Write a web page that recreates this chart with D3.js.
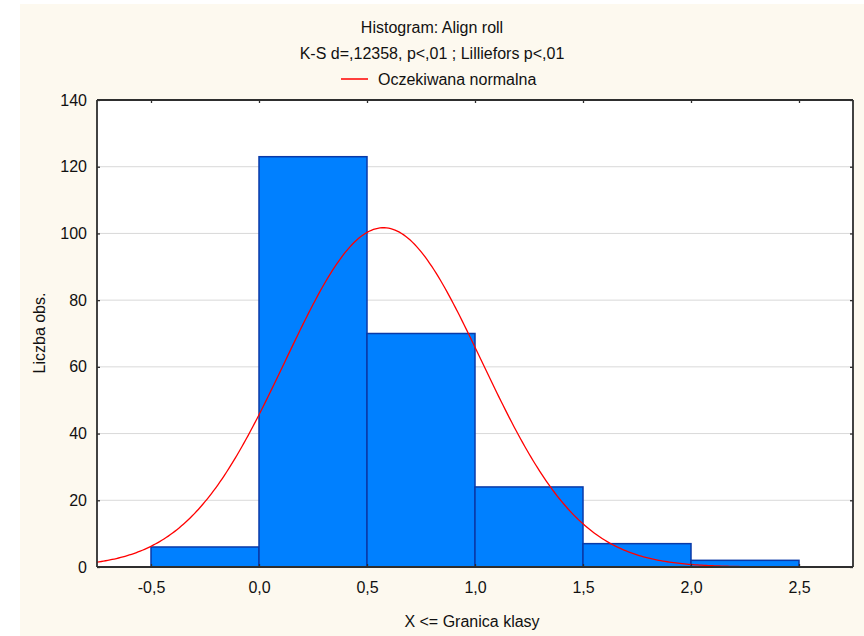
<!DOCTYPE html>
<html>
<head>
<meta charset="utf-8">
<script src="https://cdn.jsdelivr.net/npm/d3@7"></script>
<style>
  html, body { margin: 0; padding: 0; background: #ffffff; }
  svg { display: block; }
  text { font-family: "Liberation Sans", Arial, sans-serif; }
</style>
</head>
<body>
<svg id="chart" width="864" height="636"></svg>
<script>
// ---- data ----
const titleLine1 = "Histogram: Align roll";
const titleLine2 = "K-S d=,12358, p<,01 ; Lilliefors p<,01";
const legendLabel = "Oczekiwana normalna";
const xLabel = "X <= Granica klasy";
const yLabel = "Liczba obs.";

const binLower = [-0.5, 0.0, 0.5, 1.0, 1.5, 2.0];
const binUpper = [0.0, 0.5, 1.0, 1.5, 2.0, 2.5];
const binCounts = [6, 123, 70, 24, 7, 2];

const xTicks = [-0.5, 0.0, 0.5, 1.0, 1.5, 2.0, 2.5];
const xTickLabels = ["-0,5", "0,0", "0,5", "1,0", "1,5", "2,0", "2,5"];
const yTicks = [0, 20, 40, 60, 80, 100, 120, 140];
const yTickLabels = ["0", "20", "40", "60", "80", "100", "120", "140"];

// expected normal distribution parameters (fitted)
const normalMean = 0.576;
const normalSd = 0.455;

// ---- layout ----
const W = 864, H = 636;
const plot = { left: 97, right: 853, top: 100, bottom: 567 };

const svg = d3.select("#chart");

// backgrounds
svg.append("rect").attr("x", 0).attr("y", 0).attr("width", W).attr("height", H).attr("fill", "#ffffff");
svg.append("rect").attr("x", 20).attr("y", 4).attr("width", W - 20).attr("height", H - 4).attr("fill", "#fdf9ef");

const x = d3.scaleLinear().domain([-0.75, 2.75]).range([plot.left, plot.right]);
const y = d3.scaleLinear().domain([0, 140]).range([plot.bottom, plot.top]);

svg.append("rect")
  .attr("x", plot.left).attr("y", plot.top)
  .attr("width", plot.right - plot.left).attr("height", plot.bottom - plot.top)
  .attr("fill", "#ffffff");

svg.append("defs").append("clipPath").attr("id", "clip")
  .append("rect")
  .attr("x", plot.left).attr("y", plot.top)
  .attr("width", plot.right - plot.left).attr("height", plot.bottom - plot.top);

// gridlines
svg.append("g").selectAll("line")
  .data(yTicks.filter(d => d > 0 && d < 140))
  .join("line")
  .attr("x1", plot.left).attr("x2", plot.right)
  .attr("y1", d => y(d)).attr("y2", d => y(d))
  .attr("stroke", "#d9d9d9").attr("stroke-width", 1);

// bars
const bins = binCounts.map((c, i) => ({ lo: binLower[i], hi: binUpper[i], count: c }));
svg.append("g").selectAll("rect")
  .data(bins)
  .join("rect")
  .attr("x", d => x(d.lo))
  .attr("y", d => y(d.count))
  .attr("width", d => x(d.hi) - x(d.lo))
  .attr("height", d => y(0) - y(d.count))
  .attr("fill", "#0080ff")
  .attr("stroke", "#0a3aa8")
  .attr("stroke-width", 1.5);

// expected normal curve
const total = d3.sum(binCounts);
const binWidth = binUpper[0] - binLower[0];
const normPdf = v => Math.exp(-0.5 * Math.pow((v - normalMean) / normalSd, 2)) / (normalSd * Math.sqrt(2 * Math.PI));
const curveXs = d3.range(-0.75, 2.7501, 0.01);
const line = d3.line().x(d => x(d)).y(d => y(total * binWidth * normPdf(d)));
svg.append("path")
  .datum(curveXs)
  .attr("clip-path", "url(#clip)")
  .attr("d", line)
  .attr("fill", "none")
  .attr("stroke", "#ff0000")
  .attr("stroke-width", 1.3);

// axes
const fmtX = d => xTickLabels[xTicks.indexOf(d)];
const fmtY = d => yTickLabels[yTicks.indexOf(d)];

const axL = svg.append("g").attr("transform", `translate(${plot.left},0)`)
  .call(d3.axisLeft(y).tickValues(yTicks).tickFormat(fmtY).tickSize(-3).tickPadding(10));
const axR = svg.append("g").attr("transform", `translate(${plot.right},0)`)
  .call(d3.axisRight(y).tickValues(yTicks).tickFormat("").tickSize(-3));
const axB = svg.append("g").attr("transform", `translate(0,${plot.bottom})`)
  .call(d3.axisBottom(x).tickValues(xTicks).tickFormat(fmtX).tickSize(-3).tickPadding(15));
const axT = svg.append("g").attr("transform", `translate(0,${plot.top})`)
  .call(d3.axisTop(x).tickValues(xTicks).tickFormat("").tickSize(-3));

[axL, axR, axB, axT].forEach(g => {
  g.select(".domain").attr("stroke", "#2e2e2e").attr("stroke-width", 1.8);
  g.selectAll(".tick line").attr("stroke", "#2e2e2e").attr("stroke-width", 1.3);
  g.selectAll("text")
    .attr("font-family", "'Liberation Sans', Arial, sans-serif")
    .attr("font-size", 16)
    .attr("fill", "#111111");
});
axL.selectAll(".domain").attr("d", `M0,${plot.top}V${plot.bottom}`);
axR.selectAll(".domain").attr("d", `M0,${plot.top}V${plot.bottom}`);
axB.selectAll(".domain").attr("d", `M${plot.left},0H${plot.right}`);
axT.selectAll(".domain").attr("d", `M${plot.left},0H${plot.right}`);

// titles
const tcol = "#111111";
svg.append("text").attr("x", 432).attr("y", 33).attr("text-anchor", "middle")
  .attr("font-size", 16).attr("fill", tcol).text(titleLine1);
svg.append("text").attr("x", 432).attr("y", 59).attr("text-anchor", "middle")
  .attr("font-size", 16).attr("fill", tcol).text(titleLine2);

// legend
svg.append("line").attr("x1", 341).attr("x2", 368).attr("y1", 79).attr("y2", 79)
  .attr("stroke", "#ff0000").attr("stroke-width", 1.5);
svg.append("text").attr("x", 378).attr("y", 85)
  .attr("font-size", 16).attr("fill", tcol).text(legendLabel);

// axis labels
svg.append("text").attr("x", 472).attr("y", 627).attr("text-anchor", "middle")
  .attr("font-size", 16).attr("fill", tcol).text(xLabel);
svg.append("text").attr("transform", "translate(45,333) rotate(-90)")
  .attr("text-anchor", "middle")
  .attr("font-size", 16).attr("fill", tcol).text(yLabel);
</script>
</body>
</html>
